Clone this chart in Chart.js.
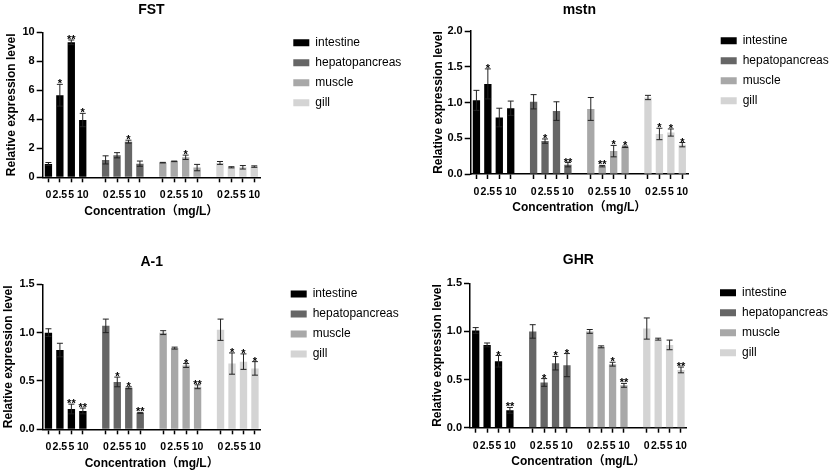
<!DOCTYPE html>
<html><head><meta charset="utf-8">
<script src="https://cdn.jsdelivr.net/npm/chart.js@4.4.1/dist/chart.umd.min.js"></script>
<style>
html,body{margin:0;padding:0;background:#fff;}
body{width:830px;height:471px;position:relative;overflow:hidden;}
canvas{position:absolute;}
</style></head><body>
<canvas id="c1"></canvas><canvas id="c2"></canvas><canvas id="c3"></canvas><canvas id="c4"></canvas>
<script>
// ---- data ----
const tissues = ['intestine', 'hepatopancreas', 'muscle', 'gill'];
const concentrations = ['0', '2.5', '5', '10'];
const tissueColors = ['#000000', '#666666', '#a8a8a8', '#d4d4d4'];

const fstMeans  = [0.92, 5.66, 9.31, 3.95, 1.20, 1.52, 2.46, 0.94, 1.01, 1.10, 1.38, 0.67, 0.99, 0.69, 0.69, 0.74];
const fstErrors = [0.10, 0.75, 0.16, 0.46, 0.28, 0.18, 0.10, 0.18, 0.02, 0.02, 0.15, 0.22, 0.10, 0.04, 0.12, 0.05];
const fstMarks  = ['', '*', '**', '*', '', '', '*', '', '', '', '*', '', '', '', '', ''];
const fstTicks  = ['0', '2', '4', '6', '8', '10'];

const mstnMeans  = [1.03, 1.26, 0.79, 0.92, 1.01, 0.46, 0.88, 0.13, 0.91, 0.11, 0.32, 0.38, 1.07, 0.56, 0.58, 0.41];
const mstnErrors = [0.14, 0.21, 0.13, 0.10, 0.10, 0.03, 0.13, 0.03, 0.16, 0.01, 0.08, 0.01, 0.03, 0.08, 0.05, 0.03];
const mstnMarks  = ['', '*', '', '', '', '*', '', '**', '', '**', '*', '*', '', '*', '*', '*'];
const mstnTicks  = ['0.0', '0.5', '1.0', '1.5', '2.0'];

const a1Means  = [1.00, 0.82, 0.21, 0.19, 1.07, 0.49, 0.43, 0.17, 1.00, 0.84, 0.66, 0.44, 1.03, 0.68, 0.70, 0.63];
const a1Errors = [0.04, 0.07, 0.05, 0.03, 0.07, 0.05, 0.01, 0.005, 0.02, 0.01, 0.02, 0.02, 0.11, 0.11, 0.08, 0.07];
const a1Marks  = ['', '', '**', '**', '', '*', '*', '**', '', '', '*', '**', '', '*', '*', '*'];
const a1Ticks  = ['0.0', '0.5', '1.0', '1.5'];

const ghrMeans  = [1.01, 0.86, 0.69, 0.18, 1.00, 0.47, 0.67, 0.65, 1.00, 0.84, 0.66, 0.44, 1.03, 0.92, 0.86, 0.60];
const ghrErrors = [0.03, 0.02, 0.06, 0.03, 0.07, 0.04, 0.07, 0.12, 0.02, 0.01, 0.02, 0.02, 0.11, 0.01, 0.05, 0.03];
const ghrMarks  = ['', '', '*', '**', '', '*', '*', '*', '', '', '*', '**', '', '', '', '**'];
const ghrTicks  = ['0.0', '0.5', '1.0', '1.5'];

const xTitle = 'Concentration（mg/L）';
const yTitle = 'Relative expression level';

// ---- category slots: 4 concentrations per tissue, one empty slot between tissues ----
const xLabels = [];
tissues.forEach((t, ti) => {
  concentrations.forEach(c => xLabels.push(c));
  if (ti < tissues.length - 1) xLabels.push('');
});
const SLOT = concentrations.length + 1;
function slotData(means, ti) {
  return xLabels.map((_, k) => {
    const g = Math.floor(k / SLOT), i = k % SLOT;
    return (g === ti && i < concentrations.length) ? means[ti * concentrations.length + i] : null;
  });
}

Chart.defaults.font.family = "'Liberation Sans', Arial, Helvetica, 'Noto Sans CJK SC', sans-serif";
Chart.defaults.color = '#000';

const errorBarPlugin = {
  id: 'errorBars',
  afterDatasetsDraw(chart, args, opts) {
    const ctx = chart.ctx, ys = chart.scales.y, n = concentrations.length;
    ctx.save();
    chart.data.datasets.forEach((ds, ti) => {
      const meta = chart.getDatasetMeta(ti);
      for (let i = 0; i < n; i++) {
        const el = meta.data[ti * SLOT + i];
        if (!el) continue;
        const m = opts.means[ti * n + i], e = opts.errors[ti * n + i];
        const x = el.x;
        const yt = ys.getPixelForValue(m + e), yb = ys.getPixelForValue(Math.max(0, m - e));
        ctx.strokeStyle = opts.color; ctx.lineWidth = opts.lineWidth;
        ctx.beginPath();
        ctx.moveTo(x, yb); ctx.lineTo(x, yt);
        ctx.moveTo(x - opts.cap, yt); ctx.lineTo(x + opts.cap, yt);
        ctx.moveTo(x - opts.cap, yb); ctx.lineTo(x + opts.cap, yb);
        ctx.stroke();
        const mark = opts.marks[ti * n + i];
        if (mark) {
          ctx.fillStyle = '#000';
          ctx.font = opts.markFont;
          ctx.textAlign = 'center';
          ctx.textBaseline = 'alphabetic';
          ctx.fillText(mark, x, yt + opts.markOffset);
        }
      }
    });
    ctx.restore();
  }
};

const legendPlacePlugin = {
  id: 'legendPlace',
  beforeLayout(chart, args, opts) {
    const lg = chart.legend;
    if (!lg || lg.__wrapped) return;
    const orig = lg.fit;
    lg.fit = function () { orig.call(this); this.width = opts.width; };
    lg.__wrapped = true;
  },
  afterLayout(chart, args, opts) {
    const lg = chart.legend;
    if (!lg) return;
    const dx = opts.left - lg.left, dy = opts.top - lg.top;
    lg.left += dx; lg.right += dx; lg.top += dy; lg.bottom += dy;
  }
};

function makePanel(id, p) {
  const cv = document.getElementById(id);
  cv.width = p.W; cv.height = p.H;
  cv.style.left = p.L + 'px'; cv.style.top = p.T + 'px';
  cv.style.width = p.W + 'px'; cv.style.height = p.H + 'px';
  new Chart(cv, {
    type: 'bar',
    data: {
      labels: xLabels,
      datasets: tissues.map((t, ti) => ({
        label: t,
        data: slotData(p.means, ti),
        backgroundColor: tissueColors[ti],
        borderWidth: 0,
        grouped: false,
        barPercentage: 0.64,
        categoryPercentage: 1
      }))
    },
    options: {
      responsive: false,
      animation: false,
      layout: { padding: { left: p.padLeft, top: 0, right: 0, bottom: p.padBottom } },
      plugins: {
        title: {
          display: true, text: p.title, fullSize: false, color: '#000',
          font: { size: 14, weight: 'bold' },
          padding: { top: p.titleTop, bottom: p.titleBottom }
        },
        legend: {
          display: true, position: 'right', align: 'start', fullSize: false,
          labels: { boxWidth: 16, boxHeight: 7, padding: 8, font: { size: 12 }, color: '#000' }
        },
        tooltip: { enabled: false },
        errorBars: {
          means: p.means, errors: p.errors, marks: p.marks,
          color: '#222', lineWidth: 1, cap: 3,
          markFont: "bold 11px 'Liberation Sans', Arial, sans-serif", markOffset: 3
        },
        legendPlace: { width: p.legendWidth, left: p.legendLeft, top: p.legendTop }
      },
      scales: {
        x: {
          type: 'category',
          offset: true,
          grid: {
            display: true, drawOnChartArea: false, drawTicks: true, offset: false,
            tickLength: 5, tickWidth: 1.5,
            tickColor: (c) => (xLabels[c.index] === '' ? 'rgba(0,0,0,0)' : '#000')
          },
          border: { display: true, color: '#000', width: 1.5 },
          ticks: {
            autoSkip: false, maxRotation: 0, minRotation: 0, padding: 7,
            font: { size: 10.5, weight: 'bold' }, color: '#000'
          },
          title: { display: true, text: xTitle, font: { size: 12, weight: 'bold' }, padding: 0, color: '#000' },
          afterFit: (s) => { s.height = p.xH; }
        },
        y: {
          min: 0, max: p.yMax,
          grid: { display: true, drawOnChartArea: false, tickLength: 6, tickWidth: 1.5, tickColor: '#000' },
          border: { display: true, color: '#000', width: 1.5 },
          ticks: {
            stepSize: p.step, padding: 2, color: '#000',
            font: { size: 11, weight: 'bold' },
            callback: (v, i) => p.ticks[i]
          },
          title: { display: true, text: yTitle, font: { size: 12, weight: 'bold' }, padding: 0, color: '#000' },
          afterFit: (s) => { s.width = p.yW; }
        }
      }
    },
    plugins: [errorBarPlugin, legendPlacePlugin]
  });
}

makePanel('c1', { L: 0, T: 0, W: 415, H: 240, title: 'FST', means: fstMeans, errors: fstErrors, marks: fstMarks, ticks: fstTicks, yMax: 10, step: 2,
  padLeft: 4.8, yW: 37.9, padBottom: 21.6, xH: 41.1, titleTop: 1.6, titleBottom: 13.9, legendWidth: 155, legendLeft: 285.3, legendTop: 28.7 });
makePanel('c2', { L: 415, T: 0, W: 415, H: 240, title: 'mstn', means: mstnMeans, errors: mstnErrors, marks: mstnMarks, ticks: mstnTicks, yMax: 2, step: 0.5,
  padLeft: 16.6, yW: 39.1, padBottom: 24.9, xH: 41.1, titleTop: 1.6, titleBottom: 12.6, legendWidth: 142, legendLeft: 297.7, legendTop: 26.7 });
makePanel('c3', { L: 0, T: 250, W: 415, H: 221, title: 'A-1', means: a1Means, errors: a1Errors, marks: a1Marks, ticks: a1Ticks, yMax: 1.5, step: 0.5,
  padLeft: 1.6, yW: 41.1, padBottom: 0.6, xH: 41.1, titleTop: 4.1, titleBottom: 13.4, legendWidth: 154.3, legendLeft: 282.7, legendTop: 30 });
makePanel('c4', { L: 415, T: 250, W: 415, H: 221, title: 'GHR', means: ghrMeans, errors: ghrErrors, marks: ghrMarks, ticks: ghrTicks, yMax: 1.5, step: 0.5,
  padLeft: 15.3, yW: 39.7, padBottom: 2.2, xH: 41.1, titleTop: 1.6, titleBottom: 14.9, legendWidth: 143.3, legendLeft: 297, legendTop: 28.7 });
</script>
</body></html>
